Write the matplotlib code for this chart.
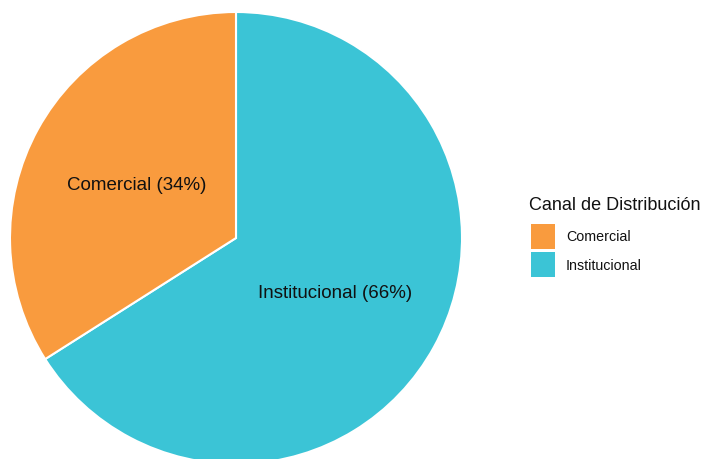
import matplotlib
matplotlib.use("Agg")
import matplotlib.pyplot as plt
from matplotlib.patches import Rectangle

categories = ["Comercial", "Institucional"]
shares = [34, 66]
colors = ["#F99B3E", "#3BC4D6"]
legend_title = "Canal de Distribución"

plt.rcParams["font.family"] = ["Liberation Sans", "DejaVu Sans"]

W, H = 702, 460
fig = plt.figure(figsize=(W / 100, H / 100), dpi=100)
ax = fig.add_axes([0, 0, 1, 1])

cx, cy, r = 236, H - 239, 226
# Institucional drawn first from 12 o'clock going clockwise, then Comercial
order = [1, 0]
ax.pie([shares[i] for i in order], colors=[colors[i] for i in order],
       startangle=90, counterclock=False, center=(cx, cy), radius=r,
       wedgeprops=dict(edgecolor="white", linewidth=1.5), frame=True)
ax.set_xlim(0, W)
ax.set_ylim(0, H)
ax.set_aspect("equal")
ax.axis("off")

ax.text(137, H - 185, f"{categories[0]} ({shares[0]}%)", ha="center", va="center",
        fontsize=13.5, color="#111111")
ax.text(335, H - 294, f"{categories[1]} ({shares[1]}%)", ha="center", va="center",
        fontsize=13.5, color="#111111")

# legend block
ax.text(529, H - 206, legend_title, ha="left", va="center", fontsize=13, color="#111111")
for i, (cat, col) in enumerate(zip(categories, colors)):
    top = 225 + i * 28
    ax.add_patch(Rectangle((531, H - top - 25), 24, 25, facecolor=col, edgecolor="none"))
    ax.text(566, H - top - 12.5, cat, ha="left", va="center", fontsize=10.3, color="#111111")

fig.savefig("out.png", dpi=100)
